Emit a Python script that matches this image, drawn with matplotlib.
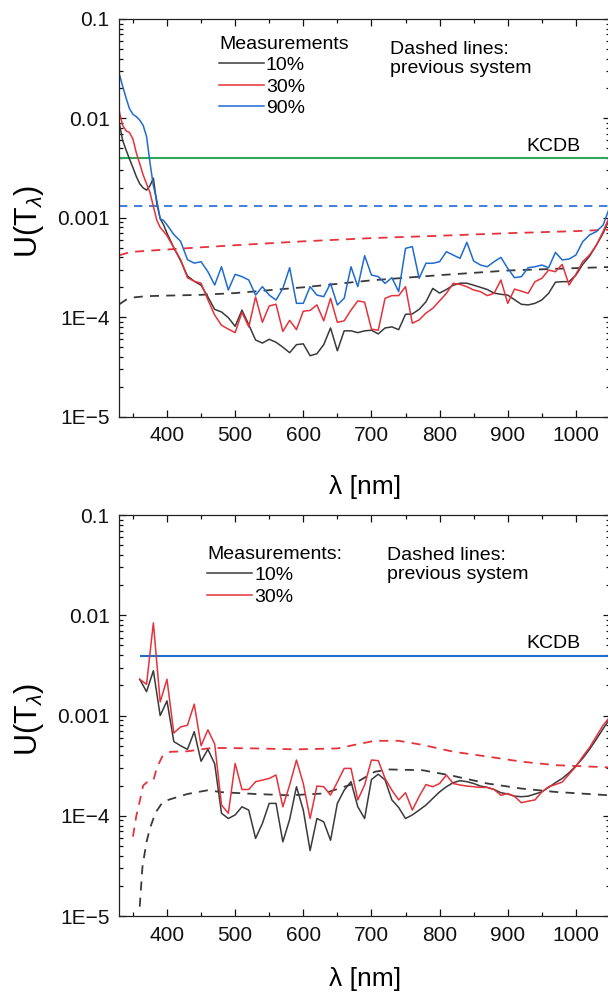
import numpy as np
import matplotlib
matplotlib.use("Agg")
import matplotlib.pyplot as plt
from matplotlib.ticker import LogLocator, FixedLocator, MultipleLocator, FuncFormatter, NullFormatter

plt.rcParams['font.family'] = ['Liberation Sans', 'DejaVu Sans']
plt.rcParams['mathtext.fontset'] = 'custom'
plt.rcParams['mathtext.rm'] = 'Liberation Sans'
plt.rcParams['mathtext.it'] = 'Liberation Sans:italic'

# ---- upper panel: new system, three transmittance levels ----
wl_top = np.concatenate([np.arange(330, 400, 5), np.arange(400, 1051, 10)])

u10_top = [0.0089, 0.0060, 0.0048, 0.0039, 0.0032, 0.0026, 0.0022, 0.0020, 0.0019, 0.0021,
           0.0025, 0.0014, 0.00098, 0.00085,
           7.0e-4, 5.0e-4, 3.7e-4, 2.6e-4, 2.3e-4, 2.1e-4, 1.6e-4, 1.2e-4, 1.13e-4, 9.9e-5,
           8.1e-5, 1.18e-4, 8.4e-5, 5.9e-5, 5.5e-5, 6.0e-5, 5.6e-5, 5.0e-5, 4.4e-5, 5.3e-5,
           5.4e-5, 4.1e-5, 4.3e-5, 5.3e-5, 7.8e-5, 4.6e-5, 7.3e-5, 7.3e-5, 7.0e-5, 7.3e-5,
           7.4e-5, 6.8e-5, 7.8e-5, 8.0e-5, 7.5e-5, 1.07e-4, 1.08e-4, 1.2e-4, 1.43e-4, 1.95e-4,
           1.75e-4, 1.9e-4, 2.1e-4, 2.2e-4, 2.2e-4, 2.1e-4, 2.0e-4, 1.9e-4, 1.75e-4, 1.7e-4,
           1.67e-4, 1.5e-4, 1.35e-4, 1.33e-4, 1.38e-4, 1.49e-4, 1.74e-4, 2.25e-4, 2.28e-4, 2.28e-4,
           2.65e-4, 3.4e-4, 4.1e-4, 5.3e-4, 7.0e-4, 1.0e-3]

u30_top = [0.0117, 0.0085, 0.0075, 0.0072, 0.0062, 0.0045, 0.0035, 0.0027, 0.0022, 0.0018,
           0.0013, 0.00095, 0.0008, 0.00073,
           6.6e-4, 5.0e-4, 3.8e-4, 2.5e-4, 2.3e-4, 2.2e-4, 1.5e-4, 1.05e-4, 8.3e-5, 7.6e-5,
           7.0e-5, 1.12e-4, 8.0e-5, 1.6e-4, 8.9e-5, 1.3e-4, 1.35e-4, 7.2e-5, 9.3e-5, 7.5e-5,
           1.15e-4, 1.17e-4, 1.33e-4, 9.2e-5, 1.55e-4, 8.9e-5, 9.2e-5, 1.18e-4, 1.46e-4, 1.42e-4,
           7.6e-5, 7.4e-5, 1.55e-4, 1.65e-4, 1.65e-4, 2.03e-4, 8.7e-5, 9.4e-5, 1.1e-4, 1.23e-4,
           1.46e-4, 1.74e-4, 2.19e-4, 2.14e-4, 2.03e-4, 1.88e-4, 1.81e-4, 1.65e-4, 1.74e-4, 2.37e-4,
           1.38e-4, 1.92e-4, 1.83e-4, 1.74e-4, 2.28e-4, 2.46e-4, 2.98e-4, 2.87e-4, 3.4e-4, 2.11e-4,
           2.7e-4, 3.62e-4, 4.22e-4, 5.3e-4, 7.3e-4, 1.05e-3]

u90_top = [0.028, 0.021, 0.016, 0.0125, 0.011, 0.0104, 0.0096, 0.0085, 0.0066, 0.0036,
           0.0021, 0.0015, 0.00098, 0.00094,
           8.5e-4, 6.8e-4, 5.8e-4, 3.8e-4, 3.5e-4, 3.62e-4, 2.87e-4, 2.11e-4, 3.22e-4, 1.88e-4,
           2.70e-4, 2.56e-4, 2.37e-4, 1.67e-4, 2.03e-4, 1.67e-4, 1.49e-4, 1.95e-4, 3.15e-4, 1.38e-4,
           1.38e-4, 2.03e-4, 1.67e-4, 1.61e-4, 2.19e-4, 1.33e-4, 1.55e-4, 3.22e-4, 2.03e-4, 4.16e-4,
           2.66e-4, 2.56e-4, 2.19e-4, 2.50e-4, 1.81e-4, 4.93e-4, 5.13e-4, 2.46e-4, 3.49e-4, 3.49e-4,
           3.62e-4, 4.56e-4, 4.22e-4, 3.91e-4, 5.67e-4, 3.68e-4, 3.35e-4, 3.22e-4, 3.62e-4, 4.00e-4,
           3.10e-4, 2.50e-4, 2.56e-4, 3.15e-4, 3.22e-4, 3.35e-4, 3.15e-4, 4.49e-4, 3.77e-4, 3.85e-4,
           4.22e-4, 5.75e-4, 6.72e-4, 7.26e-4, 8.47e-4, 1.3e-3]

# previous system (dashed)
wl_prev_top = [330, 340, 350, 370, 400, 450, 500, 600, 700, 800, 900, 1000, 1050]
prev10_top = [1.35e-4, 1.5e-4, 1.58e-4, 1.63e-4, 1.65e-4, 1.68e-4, 1.75e-4, 2.0e-4, 2.35e-4,
              2.65e-4, 2.95e-4, 3.12e-4, 3.2e-4]
prev30_top = [4.2e-4, 4.4e-4, 4.55e-4, 4.65e-4, 4.8e-4, 5.05e-4, 5.3e-4, 5.8e-4, 6.25e-4,
              6.6e-4, 7.0e-4, 7.35e-4, 7.6e-4]
prev90_top = 1.3e-3
kcdb_top = 4.0e-3

# ---- lower panel ----
wl_bot = np.arange(360, 1051, 10)

u10_bot = [2.3e-3, 1.73e-3, 2.8e-3, 1.0e-3, 1.4e-3, 5.5e-4, 5.0e-4, 4.6e-4, 6.9e-4, 3.5e-4,
           4.6e-4, 3.3e-4, 1.06e-4, 9.4e-5, 1.02e-4, 1.23e-4, 1.14e-4, 5.95e-5, 8.4e-5, 1.33e-4,
           1.33e-4, 5.5e-5, 9.2e-5, 1.95e-4, 1.14e-4, 4.5e-5, 9.4e-5, 8.7e-5, 5.7e-5, 1.33e-4,
           1.8e-4, 2.19e-4, 1.23e-4, 9.4e-5, 2.3e-4, 2.6e-4, 2.28e-4, 1.44e-4, 1.21e-4, 9.4e-5,
           1.02e-4, 1.14e-4, 1.28e-4, 1.49e-4, 1.73e-4, 1.95e-4, 2.14e-4, 2.24e-4, 2.19e-4, 2.1e-4,
           1.98e-4, 1.92e-4, 1.83e-4, 1.70e-4, 1.65e-4, 1.57e-4, 1.55e-4, 1.57e-4, 1.65e-4, 1.73e-4,
           1.92e-4, 2.14e-4, 2.36e-4, 2.69e-4, 3.14e-4, 3.74e-4, 4.6e-4, 5.8e-4, 7.4e-4, 9.3e-4]

u30_bot = [2.3e-3, 2.05e-3, 8.4e-3, 1.37e-3, 2.3e-3, 6.7e-4, 7.7e-4, 8.0e-4, 1.3e-3, 5.0e-4,
           7.2e-4, 5.2e-4, 1.28e-4, 1.06e-4, 3.33e-4, 1.83e-4, 1.83e-4, 2.19e-4, 2.27e-4, 2.36e-4,
           2.55e-4, 1.23e-4, 2.03e-4, 3.6e-4, 2.1e-4, 9.4e-5, 1.98e-4, 1.95e-4, 1.61e-4, 2.17e-4,
           2.97e-4, 2.97e-4, 1.44e-4, 2.03e-4, 3.6e-4, 3.55e-4, 2.36e-4, 1.8e-4, 1.44e-4, 1.7e-4,
           1.14e-4, 1.56e-4, 2.05e-4, 1.95e-4, 2.1e-4, 2.55e-4, 2.1e-4, 2.03e-4, 1.98e-4, 1.95e-4,
           1.92e-4, 1.92e-4, 1.83e-4, 1.6e-4, 1.67e-4, 1.56e-4, 1.35e-4, 1.4e-4, 1.44e-4, 1.73e-4,
           1.95e-4, 2.05e-4, 2.17e-4, 2.6e-4, 3.1e-4, 3.9e-4, 4.8e-4, 6.2e-4, 8.0e-4, 9.7e-4]

wl_prev30_bot = [350, 355, 360, 365, 370, 380, 385, 393, 405, 430, 460, 480, 530, 590, 650,
                 675, 705, 740, 775, 820, 870, 920, 970, 1050]
prev30_bot = [6.2e-5, 1.0e-4, 1.4e-4, 2.0e-4, 2.15e-4, 2.25e-4, 3.0e-4, 3.9e-4, 4.35e-4, 4.4e-4,
              4.7e-4, 4.75e-4, 4.7e-4, 4.6e-4, 4.7e-4, 5.1e-4, 5.6e-4, 5.6e-4, 5.1e-4, 4.36e-4,
              3.9e-4, 3.47e-4, 3.2e-4, 3.04e-4]
wl_prev10_bot = [360, 364, 370, 375, 383, 393, 403, 430, 460, 480, 530, 580, 630, 675, 705,
                 725, 775, 820, 870, 920, 970, 1050]
prev10_bot = [1.24e-5, 3.1e-5, 5.5e-5, 7.5e-5, 1.07e-4, 1.35e-4, 1.45e-4, 1.65e-4, 1.8e-4,
              1.72e-4, 1.65e-4, 1.6e-4, 1.67e-4, 2.1e-4, 2.75e-4, 2.9e-4, 2.85e-4, 2.5e-4,
              2.1e-4, 1.87e-4, 1.73e-4, 1.6e-4]
kcdb_bot = 3.9e-3
kcdb_bot_span = [360, 1050]

GREY = '#3a3a3a'
RED = '#e5323b'
BLUE = '#1f6bd0'
GREEN = '#2fa85c'
LW = 1.1
DASH = (5, 4)
NOTE_FS = 14


def ytick_fmt(v, pos):
    labels = {1e-5: '1E\u22125', 1e-4: '1E\u22124', 1e-3: '0.001', 1e-2: '0.01', 1e-1: '0.1'}
    for k, s in labels.items():
        if abs(v - k) < k * 1e-3:
            return s
    return ''


def style_axes(ax):
    ax.set_yscale('log')
    ax.set_xlim(330, 1050)
    ax.set_ylim(1e-5, 0.1)
    ax.xaxis.set_major_locator(FixedLocator([400, 500, 600, 700, 800, 900, 1000]))
    ax.xaxis.set_minor_locator(MultipleLocator(50))
    ax.yaxis.set_major_locator(LogLocator(base=10, numticks=10))
    ax.yaxis.set_minor_locator(LogLocator(base=10, subs=np.arange(2, 10), numticks=20))
    ax.yaxis.set_major_formatter(FuncFormatter(ytick_fmt))
    ax.yaxis.set_minor_formatter(NullFormatter())
    ax.tick_params(which='both', direction='in', top=True, right=True, width=0.9,
                   labelsize=15, pad=7, colors='#111111')
    ax.tick_params(which='major', length=5)
    ax.tick_params(which='minor', length=3)
    for s in ax.spines.values():
        s.set_linewidth(0.9)
        s.set_color('#222222')
    ax.set_xlabel('\u03bb [nm]', fontsize=19, va='center')
    ax.set_ylabel('U(T$_{\\lambda}$)', fontsize=22)
    ax.yaxis.set_label_coords(-0.15, 0.49)


def add_legend(ax, handles, title, anchor):
    return ax.legend(handles=handles, title=title, loc='upper left', bbox_to_anchor=anchor,
                     frameon=False, fontsize=NOTE_FS, title_fontsize=NOTE_FS,
                     handlelength=2.3, handletextpad=0.12, labelspacing=0.2,
                     borderpad=0, borderaxespad=0, alignment='left')


fig = plt.figure(figsize=(6.08, 9.93), dpi=100)
ax1 = fig.add_axes([0.1962, 0.5804, 0.807, 0.4005])
ax2 = fig.add_axes([0.1962, 0.0775, 0.807, 0.4038])

# upper panel
ax1.axhline(kcdb_top, color=GREEN, lw=1.5)
ax1.axhline(prev90_top, color=BLUE, lw=1.2, dashes=DASH)
ax1.plot(wl_prev_top, prev30_top, color=RED, lw=1.3, dashes=DASH)
ax1.plot(wl_prev_top, prev10_top, color=GREY, lw=1.3, dashes=DASH)
l10, = ax1.plot(wl_top, u10_top, color=GREY, lw=LW, label='10%')
l30, = ax1.plot(wl_top, u30_top, color=RED, lw=LW, label='30%')
l90, = ax1.plot(wl_top, u90_top, color=BLUE, lw=LW, label='90%')
style_axes(ax1)
ax1.xaxis.set_label_coords(0.5, -0.177)
add_legend(ax1, [l10, l30, l90], 'Measurements', (0.203, 0.958))
ax1.text(0.552, 0.899, 'Dashed lines:\nprevious system', transform=ax1.transAxes,
         fontsize=NOTE_FS, va='center', ha='left', linespacing=1.2)
ax1.annotate('KCDB', (1007, kcdb_top), xytext=(0, 8), textcoords='offset points',
             fontsize=NOTE_FS, ha='right', va='center')

# lower panel
ax2.hlines(kcdb_bot, kcdb_bot_span[0], kcdb_bot_span[1], color=BLUE, lw=1.5)
ax2.plot(wl_prev30_bot, prev30_bot, color=RED, lw=1.3, dashes=DASH)
ax2.plot(wl_prev10_bot, prev10_bot, color=GREY, lw=1.3, dashes=DASH)
m10, = ax2.plot(wl_bot, u10_bot, color=GREY, lw=LW, label='10%')
m30, = ax2.plot(wl_bot, u30_bot, color=RED, lw=LW, label='30%')
style_axes(ax2)
ax2.xaxis.set_label_coords(0.5, -0.157)
add_legend(ax2, [m10, m30], 'Measurements:', (0.179, 0.924))
ax2.text(0.545, 0.875, 'Dashed lines:\nprevious system', transform=ax2.transAxes,
         fontsize=NOTE_FS, va='center', ha='left', linespacing=1.2)
ax2.annotate('KCDB', (1007, kcdb_bot), xytext=(0, 9), textcoords='offset points',
             fontsize=NOTE_FS, ha='right', va='center')

fig.savefig('out.png', dpi=100, facecolor='white')
